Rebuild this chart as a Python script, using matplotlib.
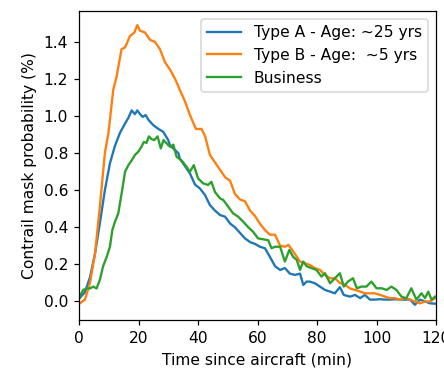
import matplotlib
matplotlib.use("Agg")
import matplotlib.pyplot as plt

# Type A - Age ~25 yrs
t_a = [0.3, 2, 3.7, 5.4, 7, 8.7, 10.4, 12.1, 13.8, 15.5, 16.6, 17.7, 18.8, 19.6,
       20.5, 21.4, 22.4, 23.3, 25, 26.7, 28.3, 30, 30.6, 31.7, 32.3, 33.4, 33.9,
       35.6, 37.3, 39, 40.6, 42.3, 44, 45.7, 47.4, 49.1, 50.8, 52.4, 54.1, 55.8,
       57.5, 59.2, 60.8, 62.5, 64.2, 65.9, 67.6, 69.2, 70.9, 72.6, 74.3, 75.4,
       76.5, 77.6, 79.3, 81, 82.7, 84.4, 86, 87.7, 89, 91.1, 92.8, 94.5, 96.1,
       97.8, 99.5, 101.2, 102.9, 104.5, 106.2, 107.9, 109.6, 111.3, 112.9, 114.6,
       116.3, 118, 119.7]
v_a = [0.02, 0.05, 0.13, 0.26, 0.42, 0.60, 0.745, 0.84, 0.91, 0.96, 0.99, 1.03,
       1.01, 1.03, 1.01, 0.995, 1.005, 0.98, 0.95, 0.93, 0.915, 0.87, 0.84, 0.825,
       0.815, 0.80, 0.77, 0.73, 0.69, 0.63, 0.61, 0.575, 0.52, 0.49, 0.466, 0.457,
       0.42, 0.40, 0.37, 0.34, 0.32, 0.31, 0.295, 0.287, 0.24, 0.19, 0.17, 0.18,
       0.15, 0.143, 0.15, 0.089, 0.107, 0.107, 0.098, 0.08, 0.062, 0.053, 0.044,
       0.077, 0.035, 0.026, 0.035, 0.018, 0.035, 0.01, 0.01, 0.012, 0.01, 0.01,
       0.012, 0.01, 0.01, 0.01, -0.018, 0.01, 0.0, -0.01, -0.012]

# Type B - Age ~5 yrs
t_b = [0.3, 2, 3.7, 5.4, 7, 8.7, 9.9, 10.4, 11.5, 12.6, 14.3, 15.5, 17.1, 18.6,
       19.6, 20.5, 22.2, 23.9, 25.5, 27.2, 28.9, 30.6, 32.3, 33.9, 35.6, 37.3,
       39.3, 41.2, 42.4, 44, 45.7, 47.4, 49.1, 50.8, 52.4, 54.1, 55.8, 57.5, 59.2,
       60.8, 62.5, 64.2, 65.9, 67.6, 69.2, 70.4, 72, 74.3, 76, 77.6, 79.3, 81,
       82.7, 84.4, 86, 87.7, 89.4, 91.1, 92.8, 94.5, 96.1, 97.8, 99.5, 101.2,
       102.9, 104.5, 106.2, 107.9, 109.6, 111.3, 112.9, 114.6, 116.3, 118, 119.7]
v_b = [-0.01, 0.01, 0.10, 0.26, 0.51, 0.80, 0.91, 0.98, 1.14, 1.21, 1.36, 1.37,
       1.43, 1.45, 1.49, 1.46, 1.45, 1.41, 1.40, 1.36, 1.29, 1.25, 1.20, 1.14,
       1.08, 1.005, 0.93, 0.93, 0.89, 0.79, 0.75, 0.71, 0.67, 0.65, 0.58, 0.55,
       0.54, 0.49, 0.46, 0.42, 0.385, 0.36, 0.36, 0.30, 0.295, 0.305, 0.27,
       0.215, 0.205, 0.197, 0.18, 0.17, 0.143, 0.125, 0.125, 0.10, 0.09, 0.07,
       0.062, 0.053, 0.044, 0.044, 0.044, 0.035, 0.026, 0.018, 0.018, 0.01,
       0.018, 0.01, 0.0, -0.01, 0.0, 0.0, 0.018]

# Business
t_c = [0.3, 1.4, 2.5, 3.7, 4.8, 5.9, 7, 8.1, 9.3, 10.4, 11.2, 12.1, 13.2, 14.3,
       15.5, 16.6, 17.7, 18.8, 19.9, 21, 21.8, 22.7, 23.5, 24.4, 25.3, 26.4,
       27.5, 28.4, 29.4, 30.6, 31.7, 32.8, 34.5, 36.1, 37.3, 38.6, 40, 41.7,
       43.4, 44.5, 45.7, 47.4, 48.5, 50.2, 51.8, 53.5, 55.2, 56.9, 58.5, 60.2,
       61.9, 63.6, 64.7, 65.9, 67.6, 69.2, 70.7, 72, 73.2, 74.3, 75.4, 76.5,
       78.1, 79.8, 81.5, 82.7, 84.4, 86, 87.7, 89, 90.4, 92.1, 93.4, 94.9, 96.6,
       98.3, 100, 101.7, 103.4, 105, 106.7, 108.4, 110, 111.7, 113.4, 115.1,
       116.3, 117.4, 118.5, 119.7]
v_c = [0.026, 0.062, 0.07, 0.07, 0.08, 0.07, 0.116, 0.19, 0.24, 0.295, 0.385,
       0.43, 0.475, 0.58, 0.70, 0.735, 0.76, 0.79, 0.807, 0.834, 0.86, 0.855,
       0.89, 0.875, 0.87, 0.89, 0.825, 0.87, 0.853, 0.834, 0.845, 0.78, 0.76,
       0.727, 0.70, 0.735, 0.664, 0.637, 0.628, 0.645, 0.59, 0.556, 0.547, 0.51,
       0.475, 0.457, 0.43, 0.40, 0.376, 0.34, 0.335, 0.33, 0.287, 0.295, 0.295,
       0.215, 0.278, 0.24, 0.224, 0.17, 0.215, 0.19, 0.18, 0.17, 0.134, 0.152,
       0.098, 0.125, 0.152, 0.08, 0.107, 0.125, 0.071, 0.08, 0.08, 0.107, 0.071,
       0.071, 0.062, 0.08, 0.062, 0.026, 0.017, 0.071, 0.01, 0.044, 0.018,
       0.053, 0.01, 0.026]

labels = ["Type A - Age: ~25 yrs", "Type B - Age:  ~5 yrs", "Business"]

DPI = 112
fig = plt.figure(figsize=(444 / DPI, 371 / DPI), dpi=DPI)
ax = fig.add_axes([79 / 444, 51 / 371, 357 / 444, 309 / 371])

ax.plot(t_a, v_a, color="tab:blue", lw=1.5, label=labels[0])
ax.plot(t_b, v_b, color="tab:orange", lw=1.5, label=labels[1])
ax.plot(t_c, v_c, color="tab:green", lw=1.5, label=labels[2])

ax.set_xlim(0, 120)
ax.set_ylim(-0.1, 1.566)
ax.set_xticks([0, 20, 40, 60, 80, 100, 120])
ax.set_yticks([0.0, 0.2, 0.4, 0.6, 0.8, 1.0, 1.2, 1.4])
ax.set_xlabel("Time since aircraft (min)")
ax.set_ylabel("Contrail mask probability (%)")
ax.legend(loc="upper right", handlelength=2.2)

fig.savefig("out.png", dpi=DPI)
